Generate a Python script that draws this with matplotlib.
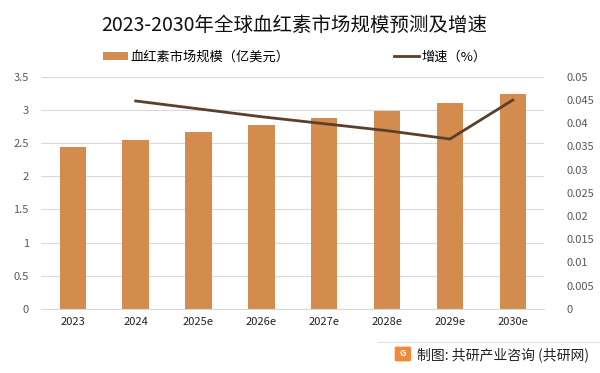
import matplotlib

matplotlib.use("Agg")
import matplotlib.pyplot as plt
import numpy as np
from matplotlib.patches import FancyBboxPatch

plt.rcParams["font.family"] = ["Noto Sans CJK SC", "DejaVu Sans"]

years = ["2023", "2024", "2025e", "2026e", "2027e", "2028e", "2029e", "2030e"]
market_size = [2.44, 2.55, 2.67, 2.78, 2.88, 2.99, 3.11, 3.24]
growth_years = ["2024", "2025e", "2026e", "2027e", "2028e", "2029e", "2030e"]
growth_rate = [0.0448, 0.0431, 0.0414, 0.0399, 0.0384, 0.0366, 0.0450]

bar_color = "#D38B4E"
line_color = "#5B3F2A"
tick_color = "#595959"

fig = plt.figure(figsize=(6.0, 3.73), dpi=100)
ax = fig.add_axes([0.069, 0.172, 0.838, 0.622])
ax2 = ax.twinx()

x = np.arange(len(years))
bars = ax.bar(x, market_size, width=0.42, color=bar_color, zorder=2)
gx = [years.index(y) for y in growth_years]
line, = ax2.plot(gx, growth_rate, color=line_color, linewidth=2.0, zorder=3)

ax.set_xlim(-0.5, len(years) - 0.5)
ax.set_ylim(0, 3.5)
ax.set_yticks(np.arange(0, 3.51, 0.5))
ax.set_yticklabels(["0", "0.5", "1", "1.5", "2", "2.5", "3", "3.5"])
ax2.set_ylim(0, 0.05)
ax2.set_yticks(np.arange(0, 0.0501, 0.005))
ax2.set_yticklabels(["0", "0.005", "0.01", "0.015", "0.02", "0.025", "0.03", "0.035", "0.04", "0.045", "0.05"])

ax.set_xticks(x)
ax.set_xticklabels(years)
ax.grid(axis="y", color="#D9D9D9", linewidth=0.8, zorder=0)
ax.set_axisbelow(True)
for a in (ax, ax2):
    for s in a.spines.values():
        s.set_visible(False)
    a.tick_params(length=0, labelsize=8, colors=tick_color)
ax.tick_params(axis="y", pad=9)
ax2.tick_params(axis="y", pad=16)
ax.tick_params(axis="x", colors="#222222", pad=6)
ax.spines["bottom"].set_visible(True)
ax.spines["bottom"].set_color("#D9D9D9")

fig.text(0.49, 0.933, "2023-2030年全球血红素市场规模预测及增速", ha="center", va="center",
         fontsize=14, color="#111111")

fig.legend(handles=[bars, line], labels=["血红素市场规模（亿美元）", "增速（%）"],
           loc="center left", bbox_to_anchor=(0.172, 0.847), ncol=2, frameon=False,
           fontsize=9.5, columnspacing=7.9, handlelength=1.9, handleheight=0.5,
           handletextpad=0.2, borderpad=0, borderaxespad=0)

# footer
fig.add_artist(plt.Line2D([0.63, 1.0], [0.084, 0.084], color="#E0E0E0", linewidth=0.8))
icon = FancyBboxPatch((0.661, 0.035), 0.021, 0.032, boxstyle="round,pad=0.002",
                      transform=fig.transFigure, color="#F08A3A")
fig.add_artist(icon)
fig.text(0.6715, 0.051, "G", ha="center", va="center", fontsize=6.5, color="white", weight="bold")
fig.text(0.695, 0.048, "制图: 共研产业咨询 (共研网)", ha="left", va="center", fontsize=10, color="#222222")

fig.savefig("out.png", dpi=100)
